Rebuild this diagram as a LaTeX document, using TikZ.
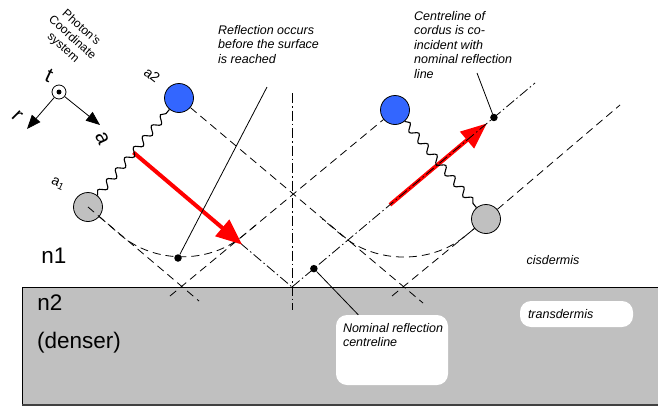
\documentclass[tikz,border=0pt]{standalone}
\usepackage{fontspec}
\setmainfont{Liberation Sans}
\usetikzlibrary{arrows.meta, positioning, calc, decorations.pathmorphing}
\definecolor{photonblue}{RGB}{51,102,255}
\definecolor{photongrey}{RGB}{192,192,192}
\tikzstyle{photon} = [circle, draw=black, line width=0.8pt, minimum size=29pt, inner sep=0pt]
\tikzstyle{dot} = [circle, fill=black, minimum size=7.5pt, inner sep=0pt]
\tikzstyle{ray} = [line width=0.8pt, dash pattern=on 8pt off 5pt]
\tikzstyle{centreline} = [line width=0.8pt, dash pattern=on 10pt off 3pt on 1.5pt off 3pt]
\tikzstyle{spring} = [line width=1.1pt, decorate, decoration={snake, segment length=14pt, amplitude=3.5pt}]
\tikzstyle{redarrow} = [red, line width=4pt, -{Triangle[length=26pt, width=21pt]}]
\tikzstyle{arrow} = [line width=0.8pt, -{Triangle[length=14pt, width=11pt]}]
\tikzstyle{pointer} = [line width=0.8pt]
\tikzstyle{note} = [font=\itshape\fontsize{12.5}{14.5}\selectfont, align=left, inner sep=0pt]
\tikzstyle{sysnote} = [font=\fontsize{12}{13.5}\selectfont, align=center, inner sep=0pt]
\tikzstyle{biglabel} = [font=\fontsize{22.5}{26}\selectfont, inner sep=0pt]
\tikzstyle{axislabel} = [font=\fontsize{21}{24}\selectfont, inner sep=0pt]
\tikzstyle{smalllabel} = [font=\fontsize{14}{16}\selectfont, inner sep=0pt]
\tikzstyle{whitebox} = [rectangle, rounded corners=11pt, fill=white]

\begin{document}
\begin{tikzpicture}[x=1pt, y=-1pt]
\useasboundingbox (0,0) rectangle (658,407);
% denser medium
\draw [line width=0.9pt, fill=photongrey] (22,287) rectangle (672,405);
\draw [line width=2pt, black!75] (22,405) -- (672,405);
\node (nombox) [whitebox, minimum width=112pt, minimum height=70pt] at (392,350) {};
\node (transbox) [whitebox, note, minimum width=113pt, minimum height=26pt, text width=97pt] at (576.5,314) {transdermis};

% reflection points
\coordinate (A1) at (181,287);
\coordinate (A2) at (403,287);
\coordinate (O) at (292,287);
\coordinate (axtop) at (292,93);
\coordinate (axbot) at (292,310);

% photon ends
\node (a1) [photon, fill=photongrey] at (88,207) {};
\node (a2) [photon, fill=photonblue] at (179,98) {};
\node (a2out) [photon, fill=photonblue] at (395,110) {};
\node (a1out) [photon, fill=photongrey] at (486,219) {};

\coordinate (L1end) at (199,301);
\coordinate (R1end) at (170,296);
\coordinate (L2end) at (423,303);
\coordinate (R2end) at (392,296);
\coordinate (R2top) at (620,105);
\coordinate (R3top) at (535,83);
\coordinate (redstart) at ($(a1)!0.5!(a2)$);
\coordinate (redtip) at ($(redstart)!0.685!(O)$);
\coordinate (redstart2) at ($(O)!0.403!(R3top)$);
\coordinate (redtip2) at ($(O)!0.802!(R3top)$);

% rays
\draw [ray] (a1.center) -- (L1end);
\draw [ray] (R1end) -- (a2out);
\draw [ray] (a2) -- (L2end);
\draw [ray] (R2end) -- (a1out);
\draw [ray] (a1out) -- (R2top);
\draw [ray, rounded corners=80pt] (a1) -- (A1) -- ($(A1)!0.36!(a2out)$);
\draw [ray, rounded corners=80pt] (a1out) -- (A2) -- ($(A2)!0.36!(a2)$);

% centrelines and motion
\draw [centreline] (axtop) -- (axbot);
\draw [centreline] (redstart) -- (O);
\draw [redarrow] (redstart) -- (redtip);
\draw [redarrow] (redstart2) -- (redtip2);
\draw [centreline] (O) -- (R3top);
\draw [spring] (a1) -- (a2);
\draw [spring] (a2out) -- (a1out);

% dots and pointers
\node (refdot) [dot] at (178,258) {};
\node (nomdot) [dot] at ($(O)!0.09!(R3top)$) {};
\node (corddot) [dot] at ($(O)!0.831!(R3top)$) {};
\coordinate (refnote) at (267,87);
\coordinate (cordnote) at (477,73);
\coordinate (nomtip) at ($(nombox.north west)!0.2!(nombox.north east)$);
\draw [pointer] (refdot) -- (refnote);
\draw [pointer] (nomdot) -- (nomtip);
\draw [pointer] (corddot) -- (cordnote);

% notes
\node (reftext) [note, anchor=north west] at (218,25) {Reflection occurs\\before the surface\\is reached};
\node (cordtext) [note, anchor=north west] at (414,11) {Centreline of\\cordus is co-\\incident with\\nominal reflection\\line};
\node (cistext) [note] at (553,260) {cisdermis};
\node (nomtext) [note, below right=8pt and 7pt of nombox.north west] {Nominal reflection\\centreline};
\node (n1) [biglabel] at (54,256) {n1};
\node (n2) [biglabel] at (50,303) {n2};
\node (denser) [biglabel] at (79,343) {(denser)};

% photon's coordinate system
\node (tax) [circle, draw, line width=0.8pt, minimum size=14pt, inner sep=0pt] at (59,92) {};
\node (tdot) [dot, minimum size=5pt] at (tax) {};
\coordinate (rtip) at (27,129);
\coordinate (atip) at (100,125);
\draw [arrow] (tax) -- (rtip);
\draw [arrow] (tax) -- (atip);
\node (tlbl) [axislabel, rotate=-25] at (49,76) {t};
\node (rlbl) [axislabel, rotate=-45] at (17,116) {r};
\node (albl) [axislabel, rotate=-65] at (102,138) {a};
\node (systext) [sysnote, rotate=-42] at (72,38) {Photon's\\Coordinate\\system};
\node (a2lbl) [smalllabel, rotate=-38] at (152,75) {a2};
\node (a1lbl) [smalllabel, rotate=-25] at (58,184) {a\textsubscript{1}};
\end{tikzpicture}
\end{document}
